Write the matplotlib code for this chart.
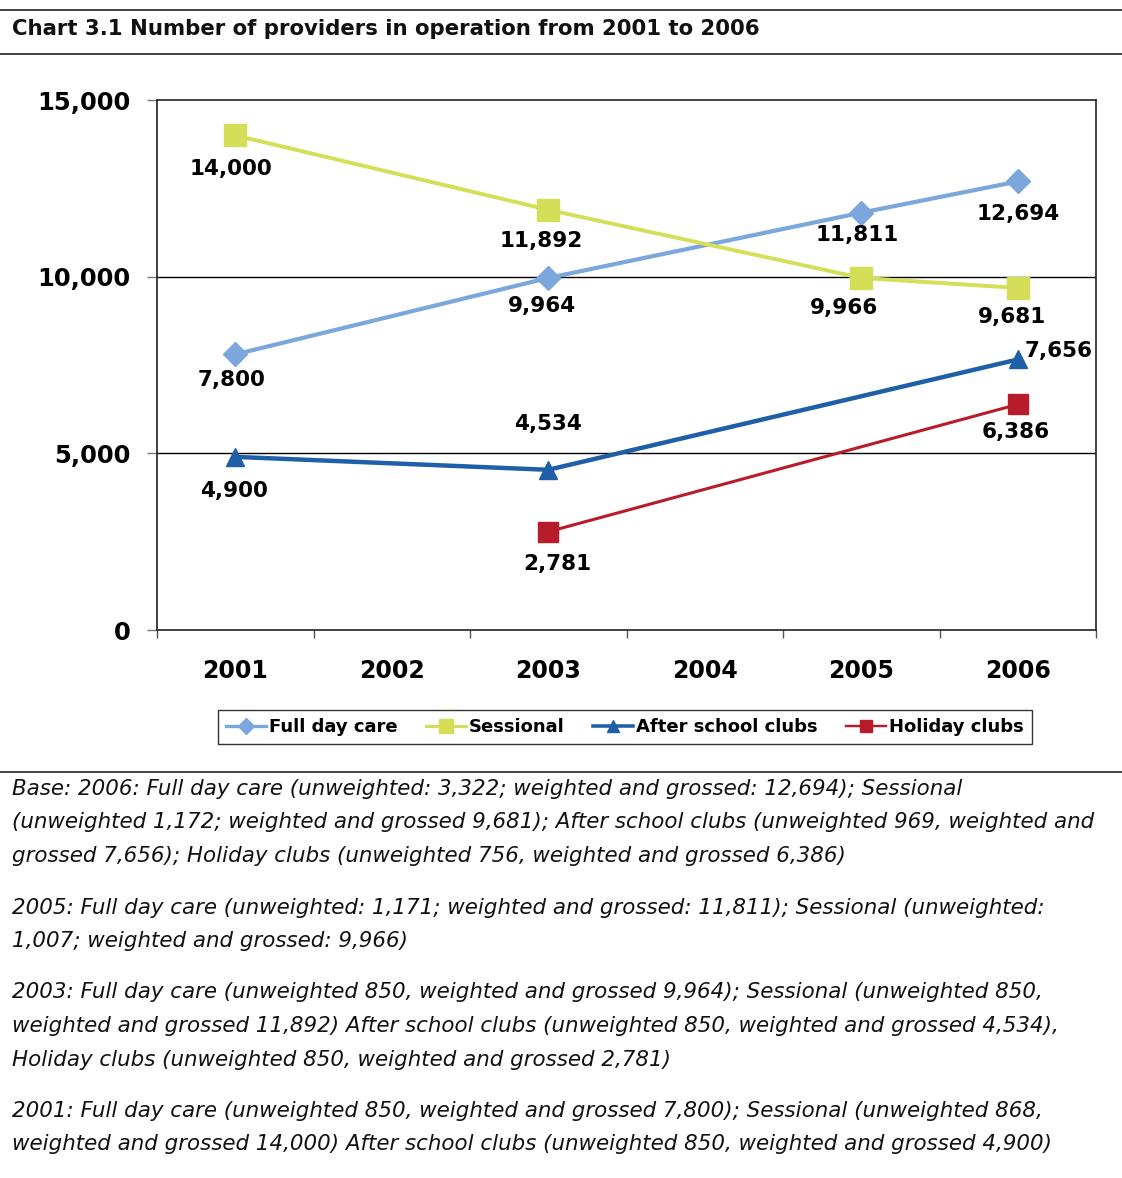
import numpy as np
import matplotlib
matplotlib.use("Agg")
import matplotlib.pyplot as plt
from matplotlib.lines import Line2D
from matplotlib.ticker import FuncFormatter, FixedLocator

years = ["2001", "2002", "2003", "2004", "2005", "2006"]
full_day_care = [7800, None, 9964, None, 11811, 12694]
sessional = [14000, None, 11892, None, 9966, 9681]
after_school = [4900, None, 4534, None, None, 7656]
holiday_clubs = [None, None, 2781, None, None, 6386]
series_names = ["Full day care", "Sessional", "After school clubs", "Holiday clubs"]

notes = [
    ["Base: 2006: Full day care (unweighted: 3,322; weighted and grossed: 12,694); Sessional",
     "(unweighted 1,172; weighted and grossed 9,681); After school clubs (unweighted 969, weighted and",
     "grossed 7,656); Holiday clubs (unweighted 756, weighted and grossed 6,386)"],
    ["2005: Full day care (unweighted: 1,171; weighted and grossed: 11,811); Sessional (unweighted:",
     "1,007; weighted and grossed: 9,966)"],
    ["2003: Full day care (unweighted 850, weighted and grossed 9,964); Sessional (unweighted 850,",
     "weighted and grossed 11,892) After school clubs (unweighted 850, weighted and grossed 4,534),",
     "Holiday clubs (unweighted 850, weighted and grossed 2,781)"],
    ["2001: Full day care (unweighted 850, weighted and grossed 7,800); Sessional (unweighted 868,",
     "weighted and grossed 14,000) After school clubs (unweighted 850, weighted and grossed 4,900)"],
]

W, H = 1122, 1178
fig = plt.figure(figsize=(W / 100, H / 100), dpi=100)
fig.patch.set_facecolor("white")


def fx(px):
    return px / W


def fy(py):
    return 1 - py / H


# header / footer rules
for yy in (10, 54, 772):
    fig.add_artist(Line2D([0, 1], [fy(yy), fy(yy)], transform=fig.transFigure,
                          color="#333333", lw=1.3))
fig.text(fx(12), fy(29), "Chart 3.1 Number of providers in operation from 2001 to 2006",
         fontsize=15.3, fontweight="bold", va="center", ha="left", color="#111111")

ax = fig.add_axes([fx(157), fy(630), fx(1096) - fx(157), (630 - 100) / H])

styles = [
    dict(color="#7ba7dc", marker="D", ms=12, lw=3.0),
    dict(color="#d4df57", marker="s", ms=16, lw=2.8),
    dict(color="#1f5fa8", marker="^", ms=13, lw=3.2),
    dict(color="#b81c2a", marker="s", ms=14, lw=2.2),
]
data = [full_day_care, sessional, after_school, holiday_clubs]

# label offsets in pixels (dx, dy) relative to marker; default below
offsets = {
    (0, 0): (-4, -26), (0, 2): (-6, -28), (0, 4): (-4, -22), (0, 5): (0, -33),
    (1, 0): (-4, -34), (1, 2): (-7, -31), (1, 4): (-17, -30), (1, 5): (-6, -29),
    (2, 0): (-1, -34), (2, 2): (0, 46), (2, 5): (41, 8),
    (3, 2): (9, -32), (3, 5): (-2, -28),
}

handles = []
for si, (vals, st) in enumerate(zip(data, styles)):
    xs = [i for i, v in enumerate(vals) if v is not None]
    ys = [v for v in vals if v is not None]
    ax.plot(xs, ys, color=st["color"], lw=st["lw"], marker=st["marker"],
            ms=st["ms"], mec=st["color"], mfc=st["color"], zorder=3,
            solid_capstyle="butt")
    for x, y in zip(xs, ys):
        dx, dy = offsets.get((si, x), (0, -30))
        ax.annotate(f"{y:,}", (x, y), xytext=(dx, dy), textcoords="offset pixels",
                    ha="center", va="center", fontsize=15.5, fontweight="bold",
                    color="black", zorder=4)
    handles.append(Line2D([], [], color=st["color"], lw=st["lw"] * 0.8,
                          marker=st["marker"], ms=st["ms"] * 0.65,
                          mec=st["color"], mfc=st["color"]))

ax.set_xlim(-0.5, 5.5)
ax.set_ylim(0, 15000)
ax.set_xticks(range(len(years)))
ax.set_xticklabels(years)
ax.xaxis.set_minor_locator(FixedLocator(np.arange(-0.5, 6, 1)))
ax.tick_params(axis="x", which="major", length=0, pad=21, labelsize=17)
ax.tick_params(axis="x", which="minor", length=6, width=1, color="#555555", direction="out")
ax.set_yticks([0, 5000, 10000, 15000])
ax.yaxis.set_major_formatter(FuncFormatter(lambda v, p: f"{int(v):,}"))
ax.tick_params(axis="y", length=7, width=1, color="#777777", pad=12, labelsize=17.5)
for lab in ax.get_xticklabels() + ax.get_yticklabels():
    lab.set_fontweight("bold")
for yv in (5000, 10000):
    ax.axhline(yv, color="black", lw=1, zorder=1)
for sp in ax.spines.values():
    sp.set_color("#222222")
    sp.set_linewidth(1.2)

leg = fig.legend(handles, series_names, loc="center",
                 bbox_to_anchor=(fx(625), fy(727)), ncol=4, frameon=True,
                 fancybox=False, edgecolor="black", handlelength=2.2,
                 handletextpad=0.15, columnspacing=1.6, borderpad=0.45,
                 prop=dict(weight="bold", size=13.0))
leg.get_frame().set_linewidth(1.0)

# footnotes
y = 789
for para in notes:
    for line in para:
        fig.text(fx(12), fy(y), line, fontsize=15.4, style="italic", va="center",
                 ha="left", color="#111111")
        y += 33.5
    y += 18

fig.savefig("out.png", dpi=100, facecolor="white")
